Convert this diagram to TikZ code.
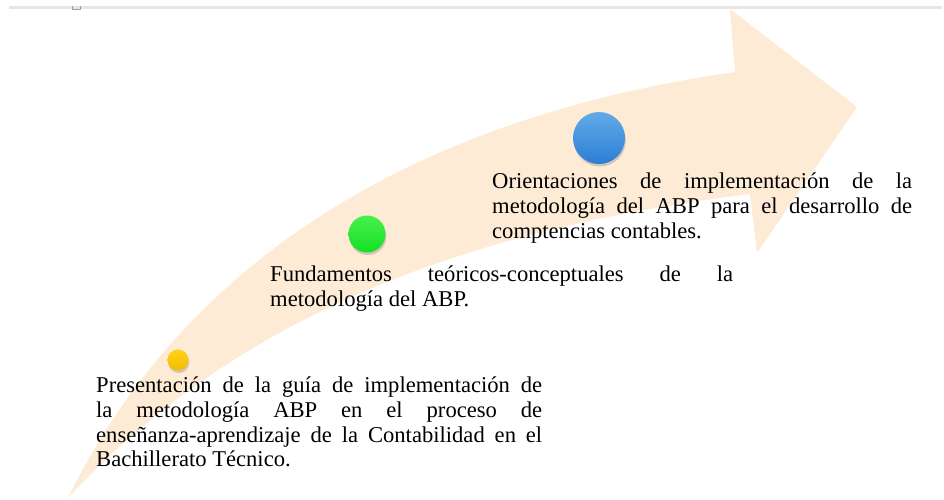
\documentclass[tikz,border=0pt]{standalone}
\usepackage{fontspec}
\setmainfont{Liberation Serif}
\usepackage{tikz}
\usetikzlibrary{positioning,calc,shadows}
\definecolor{ArrowPeach}{HTML}{FDEBD6}
\definecolor{PageGray}{HTML}{E6E6E6}
\definecolor{DotGoldTop}{HTML}{FFD21A}
\definecolor{DotGoldBot}{HTML}{F2BC00}
\definecolor{DotGreenTop}{HTML}{48F04E}
\definecolor{DotGreenBot}{HTML}{14E024}
\definecolor{DotBlueTop}{HTML}{62ABE8}
\definecolor{DotBlueBot}{HTML}{2C7ED6}
\hyphenpenalty=10000
\exhyphenpenalty=10000

\begin{document}
\begin{tikzpicture}[x=1pt, y=-1pt,
    stagetext/.style={anchor=north west, inner sep=0pt, align=justify,
      font=\fontsize{22.6}{24.6}\selectfont},
    stagedot/.style={circle, inner sep=0pt,
      drop shadow={opacity=0.35, shadow xshift=0.8pt, shadow yshift=-2.5pt}}]
  \useasboundingbox (0,0) rectangle (944,499);

  %% Page edge
  \draw[PageGray, line width=2.5pt] (9,7.5) -- (942,7.5);
  \draw[PageGray!70!black, line width=0.6pt] (72,6) -- (72,9) -- (80,9) -- (80,6);

  %% Upward arrow
  \fill[ArrowPeach] (68,498) .. controls (150,330) and (330,130) .. (735,72)
    -- (730,9) -- (857,107) -- (757,253) -- (750,194)
    .. controls (500,225) and (250,300) .. (68,498) -- cycle;

  %% Stage dots
  \node[stagedot, minimum size=21pt, top color=DotGoldTop, bottom color=DotGoldBot] (dotA) at (178,360) {};
  \node[stagedot, minimum size=37pt, top color=DotGreenTop, bottom color=DotGreenBot] (dotB) at (367,234) {};
  \node[stagedot, minimum size=52pt, top color=DotBlueTop, bottom color=DotBlueBot] (dotC) at (599,138) {};

  %% Stage texts
  \node[stagetext, text width=446pt] (stageA) at (96,377)
    {Presentación de la guía de implementación de\linebreak la metodología ABP en el proceso de\linebreak enseñanza-aprendizaje de la Contabilidad en el\linebreak Bachillerato Técnico.};
  \node[stagetext, text width=463pt] (stageB) at (270,266)
    {Fundamentos teóricos-conceptuales de la\linebreak metodología del ABP.};
  \node[stagetext, text width=420pt] (stageC) at (492,173)
    {Orientaciones de implementación de la\linebreak metodología del ABP para el desarrollo de\linebreak comptencias contables.};
\end{tikzpicture}
\end{document}
